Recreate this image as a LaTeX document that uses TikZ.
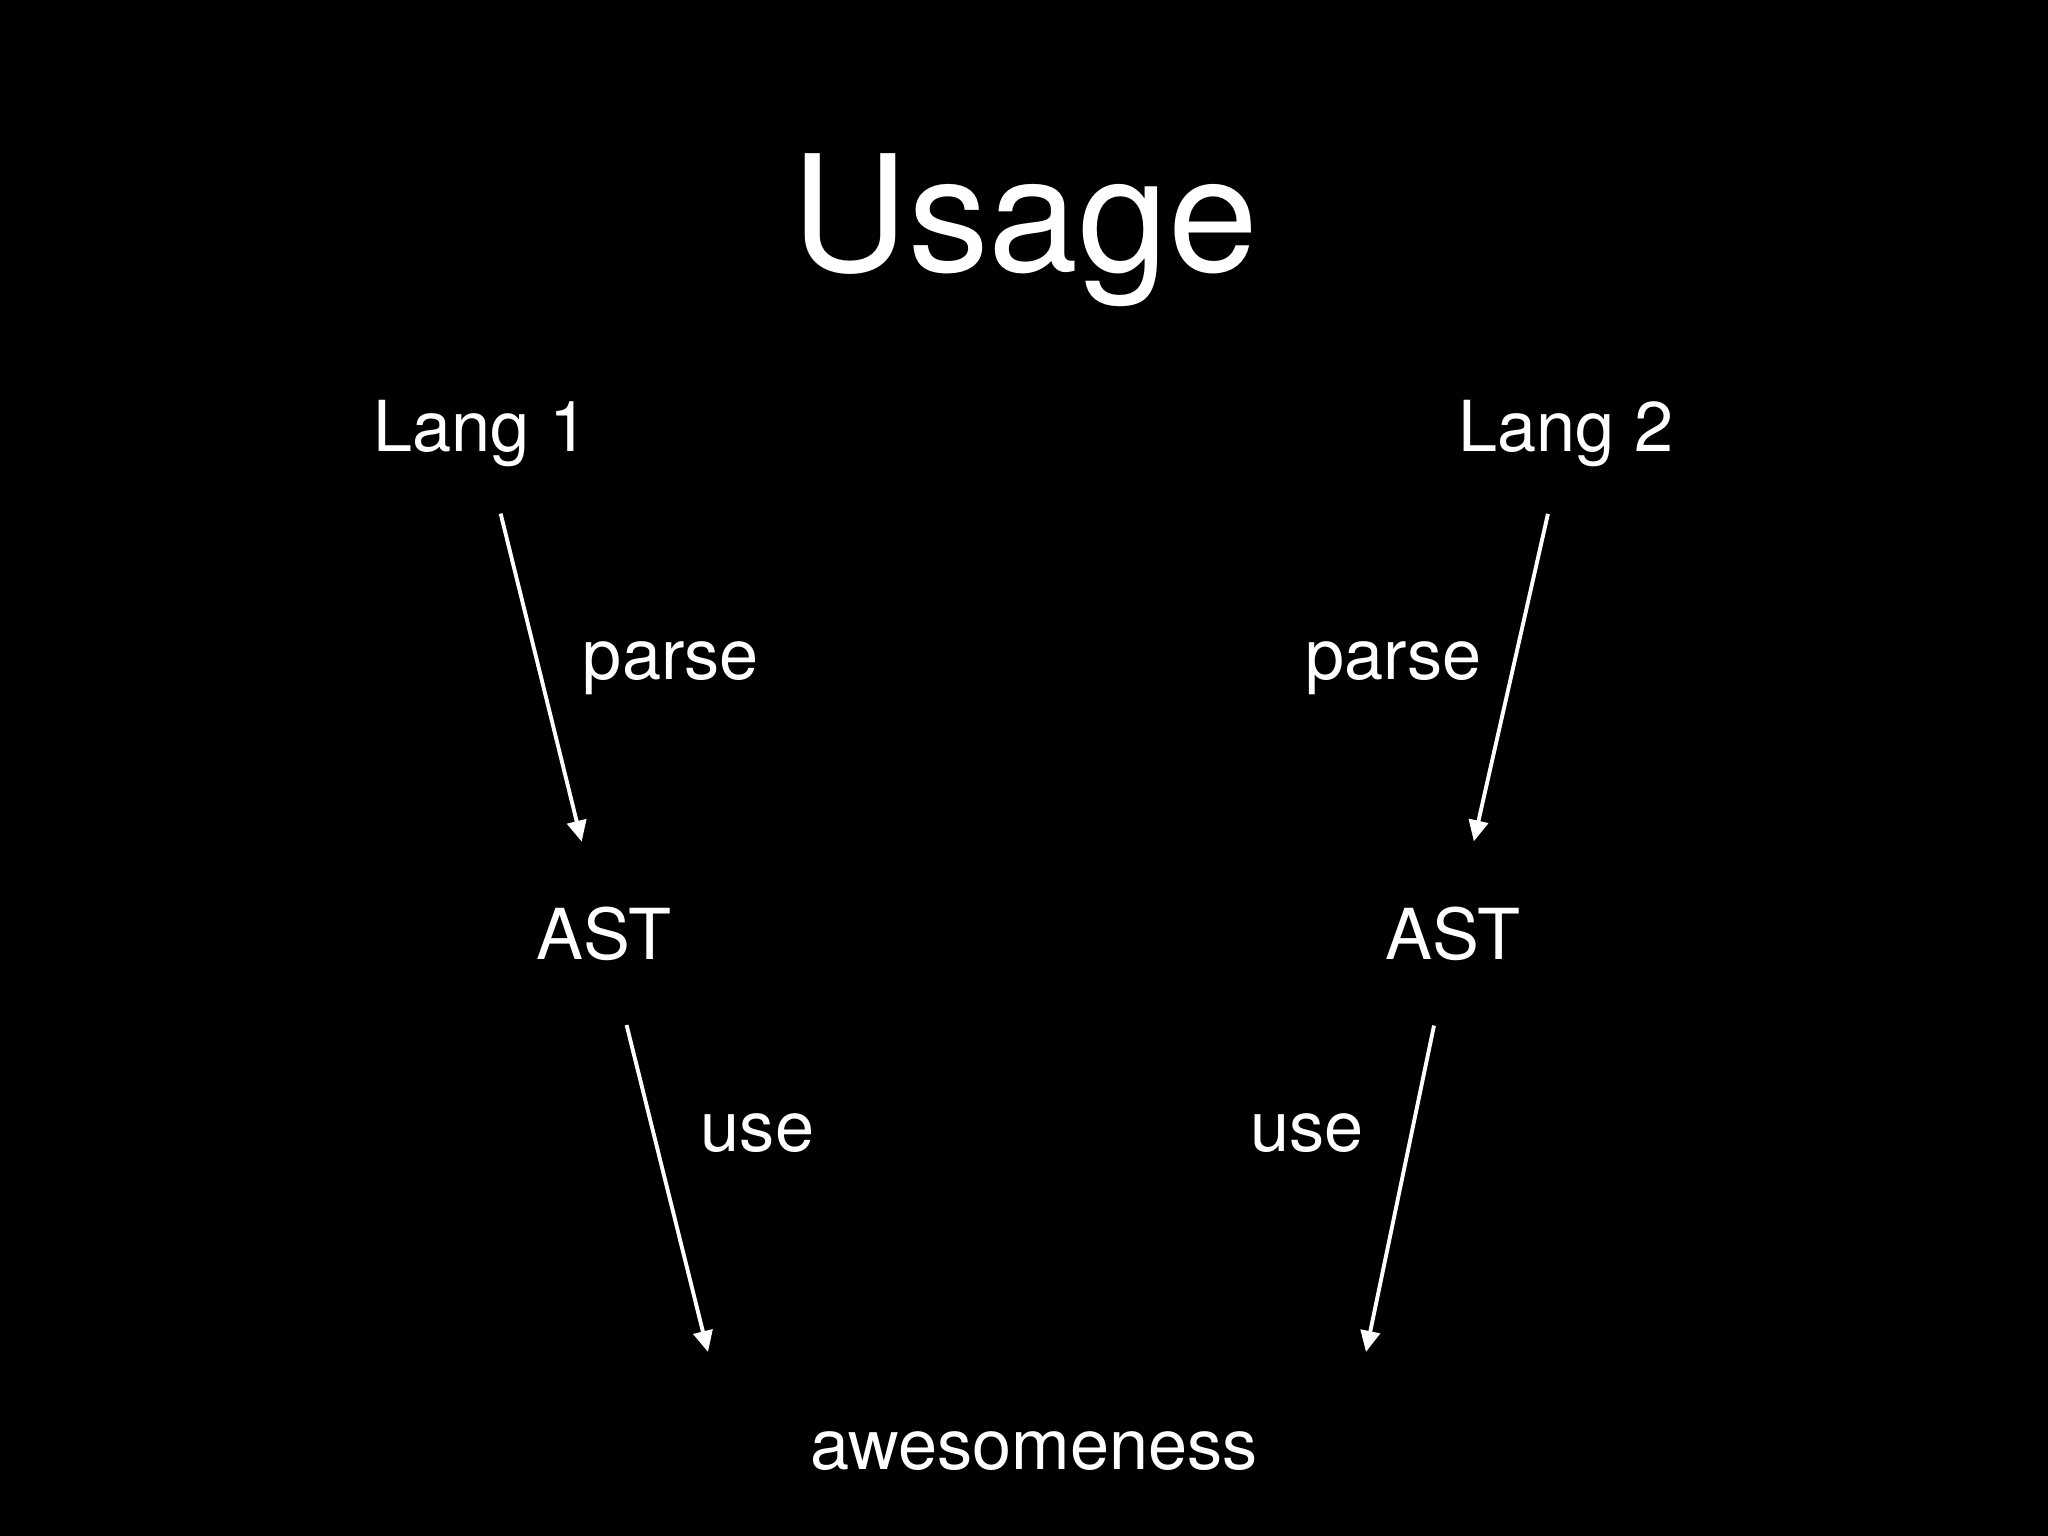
\documentclass[tikz,border=0pt]{standalone}
\usepackage{fontspec}
\setmainfont{TeX Gyre Heros}
\usetikzlibrary{arrows.meta}

\begin{document}
\begin{tikzpicture}[
  txt/.style={text=white,inner sep=0pt,anchor=base,font=\fontsize{20}{24}\selectfont},
  flow/.style={white,line width=1.1pt,->,>={Triangle[length=6pt,width=5.5pt]}}]
\fill[black] (0,0) rectangle (20.48,15.36);
\node[txt,font=\fontsize{46}{52}\selectfont] (title)at(10.25,12.64){Usage};
\node[txt] (lang1)at(4.81,10.84){Lang 1};
\node[txt] (lang2)at(15.66,10.84){Lang 2};
\node[txt] (ast1)at(6.04,5.76){AST};
\node[txt] (ast2)at(14.53,5.76){AST};
\node[txt] (awe)at(10.34,0.66){awesomeness};
\coordinate (in1) at (7.08,1.84);
\coordinate (in2) at (13.66,1.84);
\draw[flow,shorten <=0.47cm,shorten >=0.67cm] ([xshift=1mm]lang1) -- ([xshift=0.6mm]ast1);
\draw[flow,shorten <=0.47cm,shorten >=0.67cm] ([xshift=-0.3mm]lang2) -- ([xshift=1.2mm]ast2);
\draw[flow,shorten <=0.65cm] ([xshift=0.6mm]ast1) -- (in1);
\draw[flow,shorten <=0.65cm] ([xshift=0.6mm]ast2) -- (in2);
\node[txt] (parse1)at(6.71,8.56){parse};
\node[txt] (parse2)at(13.935,8.56){parse};
\node[txt] (use1)at(7.575,3.84){use};
\node[txt] (use2)at(13.07,3.84){use};
\end{tikzpicture}
\end{document}
